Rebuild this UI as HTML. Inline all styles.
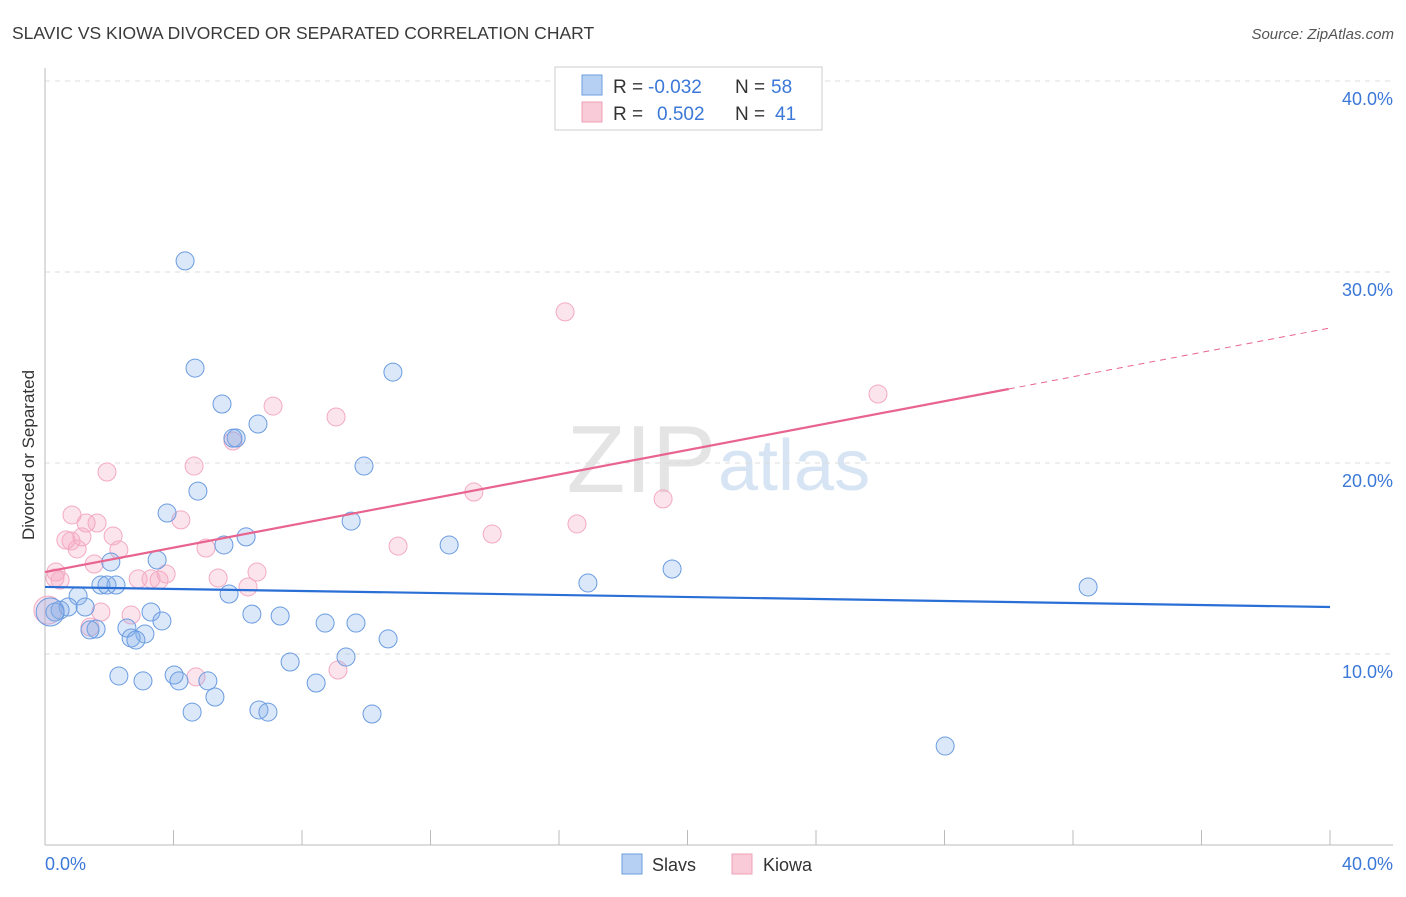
<!DOCTYPE html>
<html><head><meta charset="utf-8"><style>
body{margin:0;background:#fff;font-family:"Liberation Sans",sans-serif;}
svg text{font-family:"Liberation Sans",sans-serif;}
</style></head><body>
<svg width="1406" height="892">
<text x="12" y="39" font-size="17.5" fill="#3a3a3a">SLAVIC VS KIOWA DIVORCED OR SEPARATED CORRELATION CHART</text>
<text x="1394" y="39" font-size="15" fill="#555" font-style="italic" text-anchor="end">Source: ZipAtlas.com</text>
<text x="716" y="492" font-size="96" fill="#e4e4e4" text-anchor="end" font-family="Liberation Serif">ZIP</text>
<text x="718" y="490" font-size="72" fill="#d6e4f4">atlas</text>
<g id="grid"></g>
<g id="axes"></g>
<g id="marks"></g>
<text transform="translate(34,455) rotate(-90)" font-size="17" fill="#333" text-anchor="middle">Divorced or Separated</text>
<g>
<rect x="555" y="67" width="267" height="63" fill="#fff" stroke="#ccc"/>
<rect x="582" y="75" width="20" height="20" fill="#b5d0f2" stroke="#6e9fe0"/>
<rect x="582" y="102" width="20" height="20" fill="#f9cad8" stroke="#f0a0b8"/>
<text y="93" font-size="19" fill="#333"><tspan x="613">R =</tspan><tspan x="648" fill="#3b78d8">-0.032</tspan><tspan x="735">N =</tspan><tspan x="771" fill="#3b78d8">58</tspan></text>
<text y="120" font-size="19" fill="#333"><tspan x="613">R =</tspan><tspan x="657" fill="#3b78d8">0.502</tspan><tspan x="735">N =</tspan><tspan x="775" fill="#3b78d8">41</tspan></text>
</g>
<g>
<rect x="622" y="854" width="20" height="20" fill="#b5d0f2" stroke="#6e9fe0"/>
<text x="652" y="871" font-size="18" fill="#333">Slavs</text>
<rect x="732" y="854" width="20" height="20" fill="#f9cad8" stroke="#f0a0b8"/>
<text x="763" y="871" font-size="18" fill="#333">Kiowa</text>
</g>
</svg>
<script>
const yTicks=[10,20,30,40];
const slavsX=[4.36,4.67,10.83,5.51,6.63,5.95,5.85,9.93,4.76,3.80,9.53,6.26,5.57,12.58,3.49,2.05,19.52,1.74,2.21,1.93,16.90,32.47,1.03,5.73,0.72,0.47,1.25,0.31,3.30,6.44,7.32,3.64,8.72,9.68,2.55,1.59,1.40,3.11,2.68,2.83,10.68,7.63,9.37,2.30,3.05,4.02,4.17,5.07,8.44,5.29,4.58,6.66,6.94,10.18,28.02,0.16];
const slavsY=[30.58,24.97,24.76,23.09,22.04,21.31,21.3,19.84,18.53,17.38,16.96,16.13,15.71,15.71,14.92,14.82,14.45,13.61,13.61,13.61,13.72,13.51,13.04,13.14,12.46,12.30,12.46,12.20,12.20,12.09,11.99,11.73,11.62,11.62,11.36,11.31,11.26,11.05,10.84,10.73,10.79,9.58,9.84,8.85,8.59,8.90,8.59,8.59,8.48,7.75,6.96,7.07,6.96,6.86,5.18,12.2];
const kiowaX=[16.19,25.93,7.10,9.06,5.85,1.93,4.64,13.35,19.24,0.84,1.28,1.62,4.23,16.56,13.92,0.65,1.15,2.12,0.81,1.00,10.99,5.01,2.30,1.53,6.60,0.34,0.31,0.47,5.39,2.90,3.55,3.77,3.30,6.32,1.74,2.68,1.40,4.70,9.12,0.09];
const kiowaY=[27.91,23.61,22.98,22.41,21.15,19.53,19.84,18.48,18.12,17.28,16.86,16.86,17.02,16.81,16.28,15.97,16.13,16.18,15.92,15.50,15.65,15.55,15.45,14.71,14.29,14.29,13.98,13.87,13.98,13.93,13.87,14.19,13.93,13.51,12.20,12.04,11.41,8.80,9.16,12.30];
const slavsTrend=[13.51,12.46];
const kiowaTrend=[14.29,27.07];
const NS="http://www.w3.org/2000/svg";
const sx=v=>45+v/40*1285, sy=v=>845-v*19.1;
function mk(tag,attrs,parent){const e=document.createElementNS(NS,tag);for(const k in attrs)e.setAttribute(k,attrs[k]);document.getElementById(parent).appendChild(e);return e;}
yTicks.forEach(t=>{
 const l=mk('line',{x1:45,x2:1393,y1:sy(t),y2:sy(t),stroke:'#ddd','stroke-dasharray':'5,5'},'grid');
 
 
 const tx=mk('text',{x:1393,y:sy(t)+24,'font-size':18,fill:'#3b78d8','text-anchor':'end'},'grid');
 tx.textContent=t.toFixed(1)+'%';
 
 
});
const ax=mk('line',{x1:45,x2:45,y1:68,y2:845,stroke:'#bbb'},'axes');


const bx=mk('line',{x1:45,x2:1393,y1:845,y2:845,stroke:'#bbb'},'axes');


for(let i=0;i<=10;i++){const t=mk('line',{x1:sx(i*4),x2:sx(i*4),y1:830,y2:845,stroke:'#bbb'},'axes');
 
 }
[[0,'start',45],[40,'end',1393]].forEach(([v,a,x])=>{const t=mk('text',{x:x,y:870,'font-size':18,fill:'#3b78d8','text-anchor':a},'axes');t.textContent=v.toFixed(1)+'%';
 
 });
function pts(X,Y,fill,stroke,name){X.forEach((x,i)=>{const big=i===X.length-1;
 const c=mk('circle',{cx:sx(x),cy:sy(Y[i]),r:big?14:9,fill:fill,stroke:stroke,'stroke-width':1},'marks');
 
 });}
pts(kiowaX,kiowaY,'rgba(244,165,192,0.3)','#f3aac2','kiowa-point');
pts(slavsX,slavsY,'rgba(125,172,235,0.28)','#6a9be0','slavs-point');
const bl=mk('line',{x1:sx(0),y1:sy(slavsTrend[0]),x2:sx(40),y2:sy(slavsTrend[1]),stroke:'#2a6fd6','stroke-width':2.2},'marks');


const kAt=v=>kiowaTrend[0]+(kiowaTrend[1]-kiowaTrend[0])*v/40;
const pl=mk('line',{x1:sx(0),y1:sy(kAt(0)),x2:sx(30),y2:sy(kAt(30)),stroke:'#e8648e','stroke-width':2.2},'marks');


const pd=mk('line',{x1:sx(30),y1:sy(kAt(30)),x2:sx(40),y2:sy(kAt(40)),stroke:'#e8648e','stroke-width':1,'stroke-dasharray':'6,5'},'marks');


</script>
</body></html>
